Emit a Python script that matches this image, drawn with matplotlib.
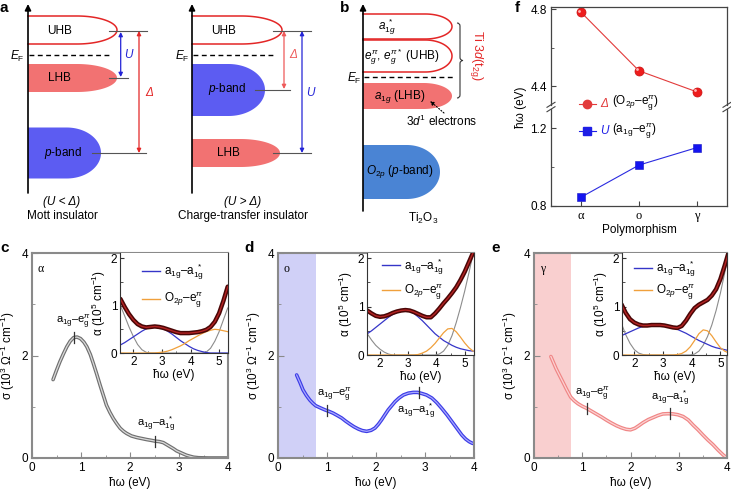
import numpy as np
import matplotlib
matplotlib.use("Agg")
import matplotlib.pyplot as plt
from matplotlib.lines import Line2D
from matplotlib.path import Path
from matplotlib.patches import PathPatch
from matplotlib.transforms import ScaledTranslation
from matplotlib.offsetbox import TextArea, DrawingArea, HPacker, VPacker, AnchoredOffsetbox

plt.rcParams['font.family'] = ['Liberation Sans', 'DejaVu Sans']
plt.rcParams['mathtext.fontset'] = 'custom'
plt.rcParams['mathtext.rm'] = 'Liberation Sans'
plt.rcParams['mathtext.it'] = 'Liberation Sans:italic'
plt.rcParams['mathtext.bf'] = 'Liberation Sans:bold'
plt.rcParams['font.size'] = 8

# ---------------- data ----------------
# panel c (alpha phase) optical conductivity
E_c = [0.43, 0.50, 0.57, 0.64, 0.71, 0.78, 0.85, 0.92, 0.99, 1.06, 1.12, 1.19, 1.25, 1.32,
       1.39, 1.46, 1.52, 1.59, 1.66, 1.73, 1.80, 1.87, 1.93, 2.03, 2.14, 2.24, 2.34, 2.43,
       2.51, 2.60, 2.68, 2.75, 2.82, 2.89, 2.95, 3.02, 3.09, 3.15, 3.22, 3.30, 3.40, 3.60,
       3.80, 4.00]
S_c = [1.53, 1.71, 1.88, 2.03, 2.17, 2.28, 2.35, 2.36, 2.33, 2.26, 2.17, 2.02, 1.85, 1.64,
       1.42, 1.21, 1.03, 0.89, 0.77, 0.67, 0.58, 0.52, 0.48, 0.43, 0.40, 0.38, 0.36, 0.345,
       0.33, 0.32, 0.30, 0.26, 0.22, 0.18, 0.14, 0.11, 0.08, 0.055, 0.035, 0.015, 0.005, 0.0,
       0.0, 0.0]
# panel d (o phase)
E_d = [0.38, 0.45, 0.51, 0.58, 0.65, 0.71, 0.77, 0.86, 0.955, 1.04, 1.125, 1.21, 1.30, 1.38,
       1.47, 1.55, 1.64, 1.72, 1.81, 1.90, 1.98, 2.05, 2.115, 2.18, 2.25, 2.32, 2.39, 2.47,
       2.56, 2.66, 2.76, 2.85, 2.93, 3.03, 3.14, 3.24, 3.34, 3.45, 3.55, 3.65, 3.75, 3.83,
       3.90, 3.96, 4.0]
S_d = [1.62, 1.47, 1.33, 1.22, 1.13, 1.07, 1.02, 0.98, 0.94, 0.91, 0.875, 0.83, 0.78, 0.72,
       0.66, 0.61, 0.565, 0.535, 0.52, 0.54, 0.585, 0.66, 0.745, 0.84, 0.94, 1.02, 1.10, 1.17,
       1.23, 1.265, 1.28, 1.28, 1.26, 1.23, 1.17, 1.08, 0.97, 0.84, 0.71, 0.58, 0.45, 0.37,
       0.32, 0.29, 0.28]
# panel e (gamma phase)
E_e = [0.35, 0.40, 0.46, 0.53, 0.60, 0.68, 0.76, 0.83, 0.91, 1.00, 1.09, 1.19, 1.29, 1.40,
       1.50, 1.60, 1.71, 1.81, 1.91, 2.00, 2.09, 2.17, 2.26, 2.37, 2.47, 2.57, 2.67, 2.78,
       2.88, 2.98, 3.09, 3.20, 3.30, 3.40, 3.50, 3.60, 3.71, 3.81, 3.92, 4.0]
S_e = [1.98, 1.87, 1.74, 1.61, 1.48, 1.33, 1.19, 1.12, 1.06, 1.01, 0.97, 0.915, 0.86, 0.80,
       0.74, 0.685, 0.63, 0.59, 0.56, 0.55, 0.58, 0.63, 0.69, 0.75, 0.79, 0.83, 0.86, 0.865,
       0.86, 0.845, 0.81, 0.74, 0.64, 0.55, 0.45, 0.355, 0.26, 0.16, 0.06, 0.0]

# peak assignments (energy of marker) per panel
peaks_c = [0.85, 2.52]
peaks_d = [0.99, 2.87]
peaks_e = [1.09, 2.81]
drude_edge_d = 0.77
drude_edge_e = 0.76

# insets: absorption coefficient fits (10^5 cm^-1)
E_in = [1.55, 1.70, 1.85, 2.00, 2.15, 2.30, 2.45, 2.60, 2.75, 2.90, 3.05, 3.20, 3.35,
        3.50, 3.65, 3.80, 3.95, 4.10, 4.25, 4.40, 4.55, 4.70, 4.85, 5.00, 5.15, 5.30]
tot_c = [1.14, 0.97, 0.82, 0.70, 0.61, 0.56, 0.54, 0.55, 0.56, 0.55, 0.53, 0.50, 0.47,
         0.44, 0.42, 0.42, 0.42, 0.43, 0.44, 0.46, 0.49, 0.55, 0.66, 0.84, 1.10, 1.40]
a1g_c = [0.17, 0.22, 0.28, 0.34, 0.40, 0.46, 0.51, 0.55, 0.56, 0.55, 0.51, 0.46, 0.40,
         0.33, 0.26, 0.20, 0.14, 0.09, 0.055, 0.03, 0.01, 0.0, 0.0, 0.0, 0.0, 0.0]
o2p_c = [0, 0, 0, 0, 0, 0, 0, 0, 0.0, 0.01, 0.02, 0.04, 0.07,
         0.11, 0.15, 0.20, 0.26, 0.31, 0.36, 0.41, 0.45, 0.48, 0.50, 0.49, 0.47, 0.45]
oth_c = [1.0, 0.78, 0.55, 0.35, 0.18, 0.07, 0.015, 0, 0, 0, 0, 0, 0,
         0, 0, 0, 0, 0, 0, 0, 0.02, 0.10, 0.25, 0.45, 0.70, 0.95]

tot_d = [0.92, 0.86, 0.81, 0.79, 0.80, 0.83, 0.87, 0.90, 0.92, 0.93, 0.92, 0.89, 0.85,
         0.81, 0.78, 0.78, 0.86, 0.96, 1.07, 1.17, 1.28, 1.40, 1.55, 1.72, 1.92, 2.12]
a1g_d = [0.44, 0.50, 0.57, 0.64, 0.71, 0.78, 0.84, 0.88, 0.91, 0.92, 0.90, 0.86, 0.79,
         0.71, 0.62, 0.53, 0.44, 0.37, 0.30, 0.25, 0.20, 0.16, 0.13, 0.11, 0.09, 0.08]
o2p_d = [0, 0, 0, 0, 0, 0, 0, 0, 0, 0, 0, 0, 0.01,
         0.04, 0.08, 0.15, 0.24, 0.35, 0.46, 0.54, 0.55, 0.48, 0.37, 0.25, 0.15, 0.08]
oth_d = [0.44, 0.31, 0.20, 0.12, 0.06, 0.02, 0.0, 0, 0, 0, 0, 0, 0,
         0, 0, 0, 0, 0.02, 0.08, 0.20, 0.40, 0.67, 0.98, 1.32, 1.70, 2.10]

tot_e = [1.05, 0.87, 0.74, 0.67, 0.63, 0.61, 0.61, 0.62, 0.62, 0.62, 0.61, 0.59, 0.57,
         0.56, 0.60, 0.71, 0.85, 0.97, 1.04, 1.09, 1.14, 1.23, 1.36, 1.57, 1.85, 2.15]
a1g_e = [0.40, 0.44, 0.48, 0.52, 0.56, 0.59, 0.61, 0.62, 0.62, 0.61, 0.60, 0.58, 0.56,
         0.53, 0.49, 0.45, 0.40, 0.35, 0.30, 0.26, 0.22, 0.18, 0.15, 0.13, 0.11, 0.09]
o2p_e = [0, 0, 0, 0, 0, 0, 0, 0, 0, 0, 0, 0, 0,
         0.01, 0.03, 0.08, 0.17, 0.30, 0.44, 0.52, 0.50, 0.40, 0.27, 0.15, 0.08, 0.04]
oth_e = [0.65, 0.42, 0.24, 0.11, 0.04, 0.01, 0, 0, 0, 0, 0, 0, 0,
         0, 0, 0, 0, 0.02, 0.08, 0.20, 0.38, 0.62, 0.92, 1.28, 1.70, 2.15]

# panel f
polymorphs = ['α', 'o', 'γ']
Delta_vals = [4.785, 4.48, 4.37]
U_vals = [0.845, 1.01, 1.10]

# ---------------- figure ----------------
W, H = 731, 492
fig = plt.figure(figsize=(W / 100, H / 100), dpi=100)


def box(l, t, r, b):
    return [l / W, 1 - b / H, (r - l) / W, (b - t) / H]


RED = '#e32626'
SALMON = '#f27272'
VIOLET = '#5c5cf2'
STEEL = '#4a84d4'
BLUE_ARR = '#2323d6'
GREYL = '#555555'

# ---------------- schematic panels a & b (pixel coordinates overlay) ----------------
ov = fig.add_axes([0, 0, 1, 1], zorder=5)
ov.set_xlim(0, W)
ov.set_ylim(H, 0)
ov.set_axis_off()


def band(x0, yc, L, h, cap, fill=None, edge=None):
    a = cap * L
    xf = x0 + L - a
    t = np.linspace(-np.pi / 2, np.pi / 2, 60)
    X = np.concatenate([[x0], xf + a * np.cos(t), [x0]])
    Y = np.concatenate([[yc - h], yc + h * np.sin(t), [yc + h]])
    if fill:
        ov.fill(X, Y, color=fill, lw=0)
    if edge:
        ov.plot(X, Y, color=edge, lw=1.1)


def yaxis_arrow(x, y0, y1):
    ov.annotate('', xy=(x, y1), xytext=(x, y0),
                arrowprops=dict(arrowstyle='-|>', color='k', lw=1.2, shrinkA=0, shrinkB=0,
                                mutation_scale=9))


def darrow(x, y0, y1, color):
    ov.annotate('', xy=(x, y1), xytext=(x, y0),
                arrowprops=dict(arrowstyle='<|-|>', color=color, lw=0.9, shrinkA=0, shrinkB=0,
                                mutation_scale=6))


def ref(x0, x1, y):
    ov.plot([x0, x1], [y, y], color=GREYL, lw=0.8)


# a: Mott insulator
yaxis_arrow(28, 193, 4)
band(28, 30, 89, 14, 0.45, edge=RED)
band(28, 78, 89, 14, 0.45, fill=SALMON)
band(28, 153, 73, 25.5, 0.47, fill=VIOLET)
ov.plot([29, 110], [55, 55], color='k', lw=1, ls=(0, (3.5, 2.5)))
ov.text(17, 56, r'$E_\mathrm{F}$', ha='center', va='center', size=8.5)
ov.text(60, 31, 'UHB', ha='center', va='center', size=8.5)
ov.text(59, 78, 'LHB', ha='center', va='center', size=8.5)
ov.text(63, 153, r'$p$-band', ha='center', va='center', size=8.5)
ref(109, 147, 30.7)
ref(109, 128, 78)
ref(92, 146, 153)
darrow(120.7, 32, 77, BLUE_ARR)
ov.text(124, 55, 'U', color=BLUE_ARR, style='italic', ha='left', va='center', size=8.5)
darrow(139, 31, 153, RED)
ov.text(145, 93, 'Δ', color=RED, style='italic', ha='left', va='center', size=8.5)
ov.text(62, 202, '(U < Δ)', style='italic', ha='center', va='center', size=8.5)
ov.text(62, 216, 'Mott insulator', ha='center', va='center', size=8.5)

# a: Charge-transfer insulator
yaxis_arrow(192, 193, 4)
band(192, 30, 90, 14, 0.45, edge=RED)
band(192, 90, 73, 26, 0.5, fill=VIOLET)
band(192, 153, 88, 14, 0.45, fill=SALMON)
ov.plot([193, 273], [55, 55], color='k', lw=1, ls=(0, (3.5, 2.5)))
ov.text(182, 56, r'$E_\mathrm{F}$', ha='center', va='center', size=8.5)
ov.text(224, 31, 'UHB', ha='center', va='center', size=8.5)
ov.text(227, 89, r'$p$-band', ha='center', va='center', size=8.5)
ov.text(228, 153, 'LHB', ha='center', va='center', size=8.5)
ref(273, 311, 30.7)
ref(255, 290, 89.7)
ref(273, 311, 153)
darrow(284, 31, 89, '#ee5a5a')
ov.text(289, 55, 'Δ', color='#ee5a5a', style='italic', ha='left', va='center', size=8.5)
darrow(302, 31, 153, BLUE_ARR)
ov.text(306, 93, 'U', color=BLUE_ARR, style='italic', ha='left', va='center', size=8.5)
ov.text(243, 202, '(U > Δ)', style='italic', ha='center', va='center', size=8.5)
ov.text(243, 216, 'Charge-transfer insulator', ha='center', va='center', size=8.5)

# b: Ti2O3
yaxis_arrow(363, 211, 4)
band(363, 26.5, 89, 12.5, 0.3, edge=RED)
band(363, 56, 89, 16, 0.3, edge=RED)
band(363, 96, 89, 13, 0.32, fill=SALMON)
band(363, 172, 77, 27, 0.43, fill=STEEL)
ov.plot([364, 453], [77, 77], color='k', lw=1, ls=(0, (3.5, 2.5)))
ov.text(354, 78, r'$E_\mathrm{F}$', ha='center', va='center', size=8.5)
ov.text(387, 27, r'$a_{1g}^{\ *}$', ha='center', va='center', size=8.5)
ov.text(402, 57, r'$e_g^{\pi}$, $e_g^{\pi*}$ (UHB)', ha='center', va='center', size=8.5)
ov.text(400, 97, r'$a_{1g}$ (LHB)', ha='center', va='center', size=8.5)
ov.text(400, 172, r'$O_{2p}$ ($p$-band)', ha='center', va='center', size=8.5)
ov.text(442, 121, r'3$d^1$ electrons', ha='center', va='center', size=8.5)
ov.text(423, 218, r'Ti$_2$O$_3$', ha='center', va='center', size=8.5)
ov.annotate('', xy=(430, 101), xytext=(444, 113),
            arrowprops=dict(arrowstyle='-|>', color='k', lw=0.8, ls=':', shrinkA=0, shrinkB=0,
                            mutation_scale=6))
# curly brace
bx, by0, by1, bw = 457, 23, 98, 6
ym = (by0 + by1) / 2
verts = [(bx, by0), (bx + bw / 2, by0), (bx + bw / 2, by0 + bw / 2),
         (bx + bw / 2, ym - bw / 2),
         (bx + bw / 2, ym), (bx + bw, ym),
         (bx + bw / 2, ym), (bx + bw / 2, ym + bw / 2),
         (bx + bw / 2, by1 - bw / 2),
         (bx + bw / 2, by1), (bx, by1)]
codes = [Path.MOVETO, Path.CURVE3, Path.CURVE3, Path.LINETO, Path.CURVE3, Path.CURVE3,
         Path.CURVE3, Path.CURVE3, Path.LINETO, Path.CURVE3, Path.CURVE3]
ov.add_patch(PathPatch(Path(verts, codes), fc='none', ec='#333333', lw=0.8))
ov.text(476, 56, r'Ti 3$d$(t$_\mathrm{2g}$)', color=RED, rotation=-90, ha='center', va='center',
        size=9)

# panel letters
for lab, (x, y) in {'a': (4, 8), 'b': (345, 8), 'c': (5, 248), 'd': (249, 248),
                    'e': (496, 248), 'f': (517, 8)}.items():
    ov.text(x, y, lab, weight='bold', size=11, ha='center', va='center')

# ---------------- panels c, d, e ----------------
SPINE = '#8a8a8a'


def main_axes(rect, E, S, c_out, c_in, peaks, lab_off, corner, drude=None, dcolor=None):
    ax = fig.add_axes(box(*rect))
    if drude is not None:
        ax.axvspan(0, drude, color=dcolor, lw=0)
    ax.plot(E, S, color=c_out, lw=2.6, solid_capstyle='round')
    ax.plot(E, S, color=c_in, lw=0.9)
    ax.set_xlim(0, 4)
    ax.set_ylim(0, 4)
    ax.set_xticks([0, 1, 2, 3, 4])
    ax.set_xticks([0.5, 1.5, 2.5, 3.5], minor=True)
    ax.set_yticks([0, 2, 4])
    ax.set_yticks([1, 3], minor=True)
    ax.tick_params(which='both', direction='in', color=SPINE, labelsize=8.5, pad=3)
    ax.tick_params(which='major', length=4)
    ax.tick_params(which='minor', length=2.5)
    for s in ax.spines.values():
        s.set_color(SPINE)
        s.set_linewidth(1.5)
    ax.set_xlabel('ħω (eV)', size=8.5, labelpad=2)
    ax.set_ylabel(r'σ (10$^3$ Ω$^{-1}$ cm$^{-1}$)', size=8.5, labelpad=3)
    labels = [r'a$_\mathrm{1g}$–e$_\mathrm{g}^{\pi}$', r'a$_\mathrm{1g}$–a$_\mathrm{1g}^{\ *}$']
    for pk, lab, (dx, dy, va) in zip(peaks, labels, lab_off):
        sv = np.interp(pk, E, S)
        ax.plot([pk, pk], [sv - 0.11, sv + 0.11], color='#333333', lw=0.9)
        yy = sv + 0.11 if va == 'bottom' else sv - 0.11
        ax.annotate(lab, xy=(pk, yy), xytext=(dx, dy), textcoords='offset pixels',
                    ha='center', va=va, size=8)
    ax.text(0.03, 0.95, corner, transform=ax.transAxes, family='Liberation Serif', size=8.5,
            ha='left', va='top')
    return ax


def inset_axes(rect, xlim, tot, a1g, o2p, oth, leg_anchor, lspace):
    ax = fig.add_axes(box(*rect))
    ax.plot(E_in, oth, color='#8c8c8c', lw=0.8)
    ax.plot(E_in, a1g, color='#3535c8', lw=0.9)
    ax.plot(E_in, o2p, color='#f0a03c', lw=0.9)
    ax.plot(E_in, tot, color='#4a0606', lw=3.2, solid_capstyle='round')
    ax.plot(E_in, tot, color='#b42323', lw=1.0)
    ax.set_xlim(*xlim)
    ax.set_ylim(0, 2.11)
    ax.set_xticks([2, 3, 4, 5])
    ax.set_xticks([2.5, 3.5, 4.5], minor=True)
    ax.set_yticks([0, 1, 2])
    ax.set_yticks([0.5, 1.5], minor=True)
    ax.tick_params(which='both', direction='in', labelsize=8.5, pad=2, color='#333333')
    ax.tick_params(which='major', length=3)
    ax.tick_params(which='minor', length=1.8)
    for s in ax.spines.values():
        s.set_color('#333333')
        s.set_linewidth(0.8)
    ax.spines['top'].set_visible(False)
    ax.set_xlabel('ħω (eV)', size=8.5, labelpad=1)
    ax.set_ylabel(r'α (10$^5$ cm$^{-1}$)', size=8.5, labelpad=2)
    h = [Line2D([], [], color='#3535c8', lw=1), Line2D([], [], color='#f0a03c', lw=1)]
    ax.legend(h, [r'a$_\mathrm{1g}$–a$_\mathrm{1g}^{\ *}$', r'O$_{2p}$–e$_\mathrm{g}^{\pi}$'],
              loc='center left', bbox_to_anchor=(leg_anchor[0] / W, 1 - leg_anchor[1] / H),
              bbox_transform=fig.transFigure, frameon=False, fontsize=8.5, handlelength=1.55,
              handletextpad=0.35, labelspacing=lspace, borderpad=0, borderaxespad=0)
    return ax


main_axes((32, 253, 228, 458), E_c, S_c, '#707070', '#dadada', peaks_c,
          [(0, 2, 'bottom'), (0, 2, 'bottom')], 'α')
inset_axes((120, 253, 228, 353), (1.535, 5.31), tot_c, a1g_c, o2p_c, oth_c, (141.7, 286), 0.75)

main_axes((278, 253, 474, 458), E_d, S_d, '#3c3ce6', '#a8a8ff', peaks_d,
          [(8, 2, 'bottom'), (-3, -3, 'top')], 'o', drude_edge_d, '#d0d0f7')
inset_axes((367, 253, 474, 355), (1.54, 5.33), tot_d, a1g_d, o2p_d, oth_d, (381.7, 279), 0.45)

main_axes((534, 253, 727, 458), E_e, S_e, '#f08585', '#fbd2d2', peaks_e,
          [(6, 1, 'bottom'), (0, 0, 'bottom')], 'γ', drude_edge_e, '#f9cfcf')
inset_axes((622, 253, 727, 355), (1.57, 5.23), tot_e, a1g_e, o2p_e, oth_e, (634, 280.3), 0.3)

# ---------------- panel f ----------------
FSP = '#444444'
axU = fig.add_axes(box(551, 7, 727, 105))
axL = fig.add_axes(box(551, 109, 727, 206))
xs = np.arange(len(polymorphs))
for ax in (axU, axL):
    ax.set_xlim(-0.517, len(polymorphs) - 1 + 0.517)
    ax.tick_params(which='both', direction='in', labelsize=8.5, color=FSP, pad=3)
    ax.tick_params(which='major', length=3.5)
    ax.tick_params(which='minor', length=2)
    for s in ax.spines.values():
        s.set_color(FSP)
        s.set_linewidth(0.9)
axU.spines['bottom'].set_visible(False)
axL.spines['top'].set_visible(False)
axU.tick_params(axis='x', which='both', bottom=False, labelbottom=False)
axU.set_ylim(4.302, 4.812)
axU.set_yticks([4.4, 4.8])
axU.set_yticks([4.6], minor=True)
axU.set_yticklabels(['4.4', '4.8'])
axL.set_ylim(0.8, 1.298)
axL.set_yticks([0.8, 1.2])
axL.set_yticks([1.0], minor=True)
axL.set_yticklabels(['0.8', '1.2'])
axL.set_xticks(xs)
axL.set_xticklabels(polymorphs, family='Liberation Serif', size=9)
axL.set_xlabel('Polymorphism', size=8.5, labelpad=1)

axU.plot(xs, Delta_vals, color='#e23b3b', lw=0.8, marker='o', ms=6.5, mfc='#ee1c1c',
         mec='#c81010', mew=0.5)
hl = axU.transData + ScaledTranslation(-1.2 / 72, 1.2 / 72, fig.dpi_scale_trans)
axU.plot(xs, Delta_vals, ls='none', marker='o', ms=2, mfc='#ffb8b8', mec='none', transform=hl)
axL.plot(xs, U_vals, color='#2a2ae0', lw=0.8, marker='s', ms=5.5, mfc='#1414f0', mec='#1414c0',
         mew=0.4)
fig.text(521 / W, 1 - 107 / H, 'ħω (eV)', rotation=90, ha='center', va='center', size=8.5)

# axis break marks
for xb in (551, 727):
    for dy in (-2.2, 2.2):
        ov.plot([xb - 4, xb + 4], [107 + dy + 2.5, 107 + dy - 2.5], color=FSP, lw=0.8,
                clip_on=False)


# legend for panel f
def leg_row(color, marker, ms, sym, rest):
    da = DrawingArea(12, 8, 0, 0)
    da.add_artist(Line2D([0, 12], [4, 4], color=color, lw=0.8))
    da.add_artist(Line2D([6], [4], marker=marker, ms=ms, color=color, ls='none'))
    t1 = TextArea(sym, textprops=dict(color=color, style='italic', size=8.5))
    t2 = TextArea(rest, textprops=dict(size=8.5))
    return HPacker(children=[da, t1, t2], align='center', pad=0, sep=3)


r1 = leg_row('#e23b3b', 'o', 6, 'Δ', r'(O$_{2p}$–e$_\mathrm{g}^{\pi}$)')
r2 = leg_row('#1e1ee6', 's', 5.5, 'U', r'(a$_\mathrm{1g}$–e$_\mathrm{g}^{\pi}$)')
vb = VPacker(children=[r1, r2], align='left', pad=0, sep=6)
anch = AnchoredOffsetbox(loc='center left', child=vb, pad=0, borderpad=0, frameon=False,
                         bbox_to_anchor=(579 / W, 1 - 117.5 / H), bbox_transform=fig.transFigure)
anch.set_zorder(20)
fig.add_artist(anch)

fig.savefig('out.png', dpi=100)
